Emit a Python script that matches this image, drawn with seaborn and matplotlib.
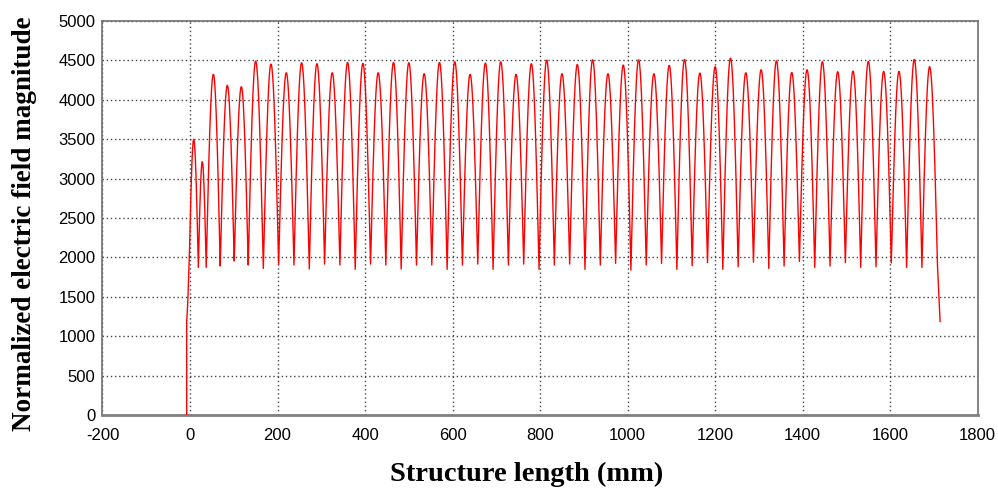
import numpy as np
import pandas as pd
import matplotlib
matplotlib.use("Agg")
import matplotlib.pyplot as plt
import seaborn as sns

# ---- data ----
# lead-in (rising edge before first cell)
lead_x = [-7.6, -7.6, -5.0]
lead_y = [0, 1180, 1450]

# trough positions / values (cusps between cells)
trough_x = [-1.5, 19, 37, 69, 101, 133,
            167.5, 202.5, 237.5, 272.5, 307.5, 342.5, 377.5, 412.5, 447.5, 482.5,
            517.5, 552.5, 587.5, 622.5, 657.5, 692.5, 727.5, 762.5, 797.5, 832.5,
            867.5, 902.5, 937.5, 972.5, 1007.5, 1042.5, 1077.5, 1112.5, 1147.5, 1182.5,
            1217.5, 1252.5, 1287.5, 1322.5, 1357.5, 1392.5, 1427.5, 1462.5, 1497.5, 1532.5,
            1567.5, 1602.5, 1637.5, 1672.5, 1708]
trough_y = [2010, 1874, 1874, 1891, 1954, 1904,
            1861, 1912, 1904, 1853, 1916, 1904, 1849, 1916, 1904, 1853,
            1904, 1904, 1849, 1904, 1916, 1849, 1904, 1916, 1849, 1904,
            1916, 1849, 1904, 1925, 1840, 1904, 1925, 1849, 1895, 1933,
            1849, 1882, 1940, 1861, 1891, 1950, 1874, 1891, 1933, 1874,
            1882, 1930, 1874, 1874, 1900]

# peak positions / values (one per cell)
peak_x = [8.4, 28, 53.3, 85.3, 117.3,
          150, 185, 220, 255, 290, 325, 360, 395, 430, 465,
          500, 535, 570, 605, 640, 675, 710, 745, 780, 815,
          850, 885, 920, 955, 990, 1025, 1060, 1095, 1130, 1165,
          1200, 1235, 1270, 1305, 1340, 1375, 1410, 1445, 1480, 1515,
          1550, 1585, 1620, 1655, 1690]
peak_y = [3500, 3215, 4324, 4184, 4167,
          4492, 4454, 4344, 4471, 4459, 4344, 4475, 4463, 4344, 4475,
          4471, 4332, 4475, 4484, 4323, 4467, 4484, 4323, 4459, 4505,
          4332, 4450, 4509, 4332, 4442, 4509, 4332, 4438, 4513, 4340,
          4421, 4530, 4344, 4382, 4496, 4348, 4382, 4484, 4357, 4365,
          4488, 4361, 4361, 4513, 4421]

# tail (falling edge after last cell)
tail_x = [1714]
tail_y = [1184]

x_ticks = [-200, 0, 200, 400, 600, 800, 1000, 1200, 1400, 1600, 1800]
y_ticks = [0, 500, 1000, 1500, 2000, 2500, 3000, 3500, 4000, 4500, 5000]
x_label = "Structure length (mm)"
y_label = "Normalized electric field magnitude"

# ---- build the curve: each cell drawn as an arch (rounded peak, cusp troughs) ----
xs = list(lead_x)
ys = list(lead_y)
for i in range(len(peak_x)):
    t0, t1 = trough_x[i], trough_x[i + 1]
    v0, v1 = trough_y[i], trough_y[i + 1]
    p, pv = peak_x[i], peak_y[i]
    n = 24
    for k in range(n):
        s = k / n
        xs.append(t0 + (p - t0) * s)
        ys.append(v0 + (pv - v0) * np.sin(0.5 * np.pi * s))
    for k in range(n):
        s = k / n
        xs.append(p + (t1 - p) * s)
        ys.append(v1 + (pv - v1) * np.cos(0.5 * np.pi * s))
xs.append(trough_x[-1])
ys.append(trough_y[-1])
xs += tail_x
ys += tail_y

df = pd.DataFrame({"x": xs, "y": ys})

# ---- plotting ----
sns.set_style("white")
plt.rcParams["font.family"] = ["Liberation Sans", "DejaVu Sans"]

fig = plt.figure(figsize=(9.98, 4.90), dpi=100)
ax = fig.add_axes([0.1027, 0.153, 0.877, 0.804])

sns.lineplot(data=df, x="x", y="y", sort=False, estimator=None,
             color="#ff0000", linewidth=1.0, ax=ax, zorder=3)

ax.set_xlim(-200, 1800)
ax.set_ylim(0, 5000)
ax.set_xticks(x_ticks)
ax.set_yticks(y_ticks)
ax.set_xticklabels([str(v) for v in x_ticks])
ax.set_yticklabels([str(v) for v in y_ticks])
ax.tick_params(axis="both", length=0, labelsize=12, colors="black")
ax.tick_params(axis="x", pad=9)
ax.tick_params(axis="y", pad=5)

ax.grid(True, which="major", color="#444444", linestyle=(0, (1, 2)), linewidth=1.0)
ax.set_axisbelow(True)

for side in ["top", "right", "left"]:
    ax.spines[side].set_color("#707070")
    ax.spines[side].set_linewidth(1.2)
ax.spines["bottom"].set_color("#808080")
ax.spines["bottom"].set_linewidth(2.0)

serif = ["Liberation Serif", "DejaVu Serif"]
ax.set_xlabel(x_label, fontsize=20.5, fontweight="bold", family=serif, color="black")
ax.set_ylabel(y_label, fontsize=19.5, fontweight="bold", family=serif, color="black")
ax.xaxis.set_label_coords(0.485, -0.118)
ax.yaxis.set_label_coords(-0.075, 0.485)

fig.savefig("out.png", dpi=100, facecolor="white")
